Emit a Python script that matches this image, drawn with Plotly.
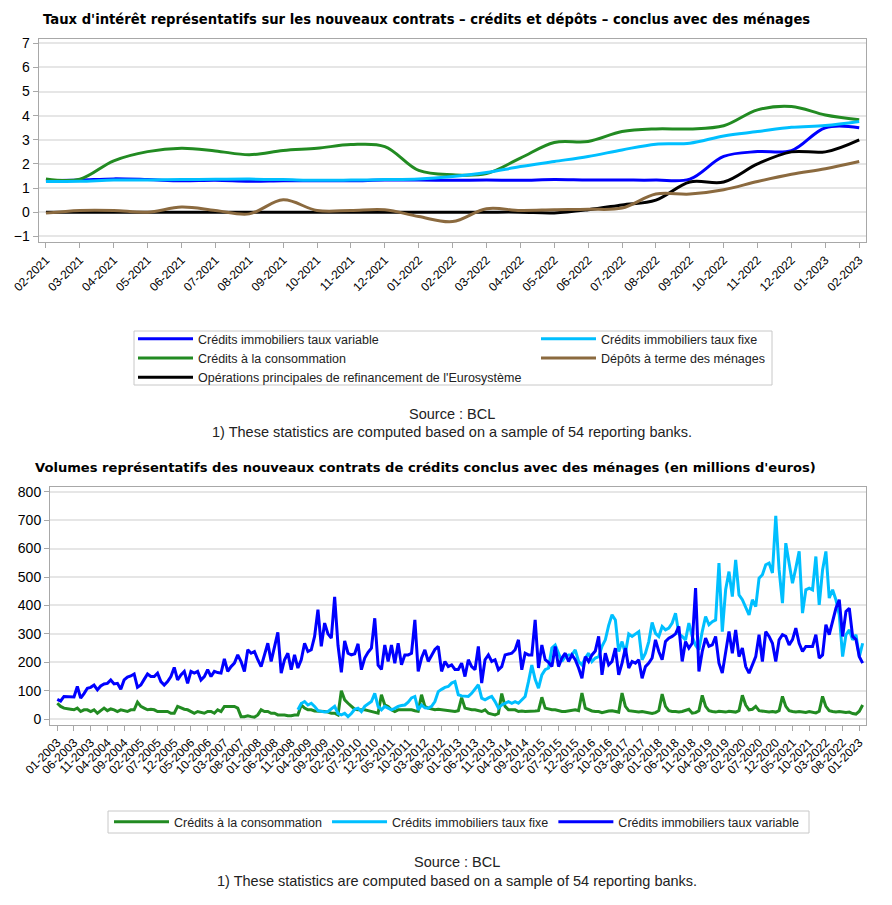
import plotly.graph_objects as go
import pandas as pd

W, H = 892, 905

# ---------------- Data: interest rates (top chart) ----------------
rate_months = ["02-2021", "03-2021", "04-2021", "05-2021", "06-2021", "07-2021",
               "08-2021", "09-2021", "10-2021", "11-2021", "12-2021", "01-2022",
               "02-2022", "03-2022", "04-2022", "05-2022", "06-2022", "07-2022",
               "08-2022", "09-2022", "10-2022", "11-2022", "12-2022", "01-2023",
               "02-2023"]
rate_variable = [1.30, 1.33, 1.38, 1.35, 1.30, 1.32, 1.28, 1.30, 1.30, 1.30, 1.33, 1.33,
                 1.32, 1.33, 1.32, 1.35, 1.33, 1.33, 1.33, 1.37, 2.31, 2.51, 2.55, 3.50, 3.50]
rate_fixed = [1.27, 1.28, 1.33, 1.33, 1.35, 1.36, 1.37, 1.35, 1.32, 1.33, 1.35, 1.38,
              1.48, 1.64, 1.89, 2.10, 2.31, 2.58, 2.82, 2.86, 3.16, 3.34, 3.52, 3.59, 3.76]
rate_consumption = [1.38, 1.37, 2.13, 2.51, 2.65, 2.54, 2.38, 2.56, 2.65, 2.80, 2.72, 1.73,
                    1.55, 1.60, 2.24, 2.89, 2.93, 3.34, 3.45, 3.45, 3.58, 4.24, 4.38, 4.03, 3.83]
rate_deposits = [-0.04, 0.07, 0.07, 0.00, 0.21, 0.07, -0.07, 0.51, 0.07, 0.07, 0.10, -0.18,
                 -0.39, 0.14, 0.07, 0.10, 0.12, 0.17, 0.75, 0.75, 0.93, 1.27, 1.57, 1.80, 2.10]
rate_mro = [0, 0, 0, 0, 0, 0, 0, 0, 0, 0, 0, 0,
            0, 0, 0, -0.03, 0.10, 0.30, 0.50, 1.25, 1.25, 2.00, 2.50, 2.50, 3.00]

# ---------------- Data: volumes (bottom chart) ----------------
vol_months = pd.period_range("2003-01", "2023-02", freq="M").strftime("%m-%Y").tolist()

vol_variable = [
    70, 64, 80, 80, 80, 78, 115, 74, 90, 109, 112, 120,          # 2003
    103, 117, 124, 126, 138, 124, 126, 105, 138, 148, 152, 159,  # 2004
    112, 120, 140, 159, 150, 150, 162, 132, 120, 132, 150, 182,  # 2005
    138, 156, 168, 126, 168, 162, 168, 138, 150, 174, 150, 168,  # 2006
    164, 162, 212, 168, 185, 197, 226, 203, 168, 244, 232, 238,  # 2007
    209, 185, 226, 267, 203, 256, 305, 162, 209, 232, 174, 226,  # 2008
    180, 209, 267, 238, 244, 291, 385, 256, 338, 300, 285, 430,  # 2009
    260, 165, 275, 232, 226, 230, 265, 174, 215, 235, 250, 355,  # 2010
    190, 175, 261, 203, 261, 197, 267, 191, 226, 226, 232, 349,  # 2011
    168, 215, 244, 203, 226, 245, 256, 168, 203, 185, 191, 175,  # 2012
    175, 197, 150, 209, 185, 174, 256, 127, 209, 226, 203, 209,  # 2013
    174, 185, 226, 228, 232, 244, 279, 174, 232, 226, 226, 349,  # 2014
    180, 261, 209, 200, 185, 256, 185, 215, 232, 203, 226, 209,  # 2015
    180, 144, 220, 203, 226, 240, 291, 156, 232, 191, 203, 250,  # 2016
    156, 197, 250, 180, 203, 197, 209, 144, 185, 197, 215, 279,  # 2017
    238, 209, 273, 285, 291, 300, 326, 203, 273, 250, 267, 461,  # 2018
    168, 238, 285, 256, 261, 291, 197, 162, 232, 308, 232, 314,  # 2019
    220, 250, 185, 162, 191, 220, 297, 203, 308, 291, 267, 203,  # 2020
    279, 297, 291, 261, 280, 320, 267, 238, 256, 256, 256, 297,  # 2021
    215, 226, 332, 297, 343, 390, 420, 291, 379, 390, 291, 280,  # 2022
    220, 197,                                                    # 2023
]

vol_fixed = [None] * 72 + [
    33, 55, 62, 50, 56, 45, 30, 27, 25, 27, 35, 45,              # 2009
    20, 15, 21, 9, 20, 35, 39, 27, 45, 55, 62, 91,               # 2010
    45, 33, 45, 39, 33, 38, 45, 48, 50, 60, 75, 80,              # 2011
    33, 50, 40, 39, 45, 62, 97, 105, 112, 115, 127, 132,         # 2012
    86, 82, 80, 80, 91, 105, 121, 74, 68, 75, 80, 62,            # 2013
    39, 50, 56, 62, 56, 62, 56, 70, 80, 132, 190, 140,           # 2014
    109, 156, 174, 180, 250, 261, 230, 203, 220, 226, 226, 244,  # 2015
    203, 191, 215, 232, 203, 215, 220, 256, 279, 330, 367, 349,  # 2016
    238, 273, 232, 300, 291, 300, 308, 209, 232, 273, 340, 302,  # 2017
    291, 326, 314, 320, 338, 373, 300, 291, 279, 338, 291, 260,  # 2018
    244, 308, 361, 332, 343, 349, 549, 308, 455, 519, 431, 560,  # 2019
    437, 420, 390, 367, 420, 396, 496, 508, 543, 549, 514, 715,  # 2020
    525, 408, 619, 549, 478, 531, 590, 373, 455, 461, 455, 572,  # 2021
    402, 525, 590, 426, 455, 420, 367, 220, 297, 314, 279, 297,  # 2022
    220, 267,                                                    # 2023
]

vol_consumption = [
    56, 45, 39, 36, 35, 33, 39, 27, 33, 33, 27, 33,   # 2003
    21, 30, 39, 30, 36, 33, 27, 33, 30, 27, 33, 33,   # 2004
    60, 45, 39, 33, 35, 33, 27, 27, 27, 27, 21, 21,   # 2005
    45, 39, 35, 33, 27, 21, 27, 23, 21, 27, 27, 21,   # 2006
    33, 27, 45, 45, 45, 45, 39, 9, 9, 12, 9, 7,       # 2007
    15, 33, 27, 27, 21, 21, 15, 15, 15, 12, 12, 15,   # 2008
    15, 50, 39, 33, 33, 29, 29, 27, 27, 25, 21, 21,   # 2009
    15, 100, 68, 56, 45, 35, 33, 33, 33, 30, 27, 24,  # 2010
    21, 86, 50, 45, 33, 27, 33, 33, 33, 33, 33, 30,   # 2011
    28, 86, 45, 39, 36, 33, 35, 33, 33, 30, 28, 27,   # 2012
    30, 76, 39, 36, 33, 33, 30, 27, 33, 21, 18, 15,   # 2013
    20, 90, 45, 33, 33, 33, 27, 29, 27, 27, 27, 29,   # 2014
    30, 77, 39, 35, 33, 33, 30, 27, 27, 29, 30, 33,   # 2015
    30, 92, 39, 33, 29, 27, 27, 23, 27, 29, 30, 27,   # 2016
    25, 92, 45, 30, 28, 27, 25, 27, 24, 21, 20, 23,   # 2017
    30, 88, 45, 30, 27, 27, 25, 27, 30, 35, 21, 23,   # 2018
    30, 84, 45, 30, 27, 25, 28, 27, 25, 28, 27, 25,   # 2019
    30, 84, 50, 33, 35, 45, 30, 28, 27, 25, 27, 25,   # 2020
    30, 80, 45, 30, 27, 25, 27, 25, 24, 27, 25, 22,   # 2021
    28, 80, 45, 30, 27, 25, 27, 25, 24, 25, 20, 18,   # 2022
    28, 50,                                           # 2023
]

# ---------------- Styling ----------------
C_VAR = "#0000FF"
C_FIX = "#00BFFF"
C_CONS = "#228B22"
C_DEP = "#8B6A3F"
C_MRO = "#000000"
FONT = "Liberation Sans, Arial, sans-serif"
TFONT = "DejaVu Sans, Liberation Sans, sans-serif"
GRID = "#E6E6E6"
FRAME = "#A8A8A8"


def px(x):
    return x / W


def py(y):
    return 1 - y / H


fig = go.Figure()

# top chart traces
top = [("Crédits immobiliers taux variable", rate_variable, C_VAR, "legend"),
       ("Crédits à la consommation", rate_consumption, C_CONS, "legend"),
       ("Opérations principales de refinancement de l'Eurosystème", rate_mro, C_MRO, "legend"),
       ("Crédits immobiliers taux fixe", rate_fixed, C_FIX, "legend3"),
       ("Dépôts à terme des ménages", rate_deposits, C_DEP, "legend3")]
for name, vals, col, leg in top:
    fig.add_trace(go.Scatter(x=rate_months, y=vals, name=name, mode="lines",
                             line=dict(color=col, width=3, shape="spline", smoothing=1.0),
                             xaxis="x", yaxis="y", legend=leg))

# bottom chart traces
for name, vals, col in [("Crédits à la consommation", vol_consumption, C_CONS),
                        ("Crédits immobiliers taux fixe", vol_fixed, C_FIX),
                        ("Crédits immobiliers taux variable", vol_variable, C_VAR)]:
    fig.add_trace(go.Scatter(x=vol_months, y=vals, name=name, mode="lines",
                             line=dict(color=col, width=3),
                             xaxis="x2", yaxis="y2", legend="legend2"))

axis_common = dict(showline=True, linecolor=FRAME, linewidth=1, mirror=True,
                   ticks="outside", tickcolor=FRAME, ticklen=5, tickwidth=1,
                   automargin=False, zeroline=False)

leg_font = dict(size=12.5, family=FONT, color="#222222")
src_font = dict(size=14.5, family=FONT, color="#222222")

fig.update_layout(
    width=W, height=H,
    margin=dict(l=0, r=0, t=0, b=0),
    paper_bgcolor="white", plot_bgcolor="white",
    font=dict(family=FONT, color="#000000"),
    xaxis=dict(domain=[px(38.5), px(866)], anchor="y", type="category",
               range=[-0.22, 24.2], tickangle=-45, showgrid=False,
               tickfont=dict(size=12, family=FONT), **axis_common),
    yaxis=dict(domain=[py(242.3), py(39)], anchor="x", range=[-1.249, 7.178],
               tickvals=[-1, 0, 1, 2, 3, 4, 5, 6, 7], showgrid=True,
               gridcolor=GRID, gridwidth=2, tickfont=dict(size=14, family=FONT),
               **axis_common),
    xaxis2=dict(domain=[px(50), px(866)], anchor="y2", type="category",
                range=[-2.18, 242.0], tickangle=-45, showgrid=False,
                tickvals=vol_months[::5], tickfont=dict(size=12, family=FONT),
                **axis_common),
    yaxis2=dict(domain=[py(725), py(486.7)], anchor="x2", range=[-20.4, 817.5],
                tickvals=[0, 100, 200, 300, 400, 500, 600, 700, 800], showgrid=True,
                gridcolor=GRID, gridwidth=2, tickfont=dict(size=14, family=FONT),
                **axis_common),
    legend=dict(x=px(133), y=py(324), xanchor="left", yanchor="top",
                orientation="v", bgcolor="rgba(0,0,0,0)", borderwidth=0,
                itemwidth=55, font=leg_font, tracegroupgap=0),
    legend3=dict(x=px(536), y=py(324), xanchor="left", yanchor="top",
                 orientation="v", bgcolor="rgba(0,0,0,0)", borderwidth=0,
                 itemwidth=55, font=leg_font, tracegroupgap=0),
    legend2=dict(x=px(109), y=py(807), xanchor="left", yanchor="top",
                 orientation="h", bgcolor="rgba(0,0,0,0)", borderwidth=0,
                 itemwidth=55, font=leg_font),
    shapes=[
        dict(type="rect", xref="paper", yref="paper", x0=px(134), x1=px(772),
             y0=py(385), y1=py(331), line=dict(color="#C8C8C8", width=1)),
        dict(type="rect", xref="paper", yref="paper", x0=px(108), x1=px(809),
             y0=py(833), y1=py(811), line=dict(color="#C8C8C8", width=1)),
    ],
    annotations=[
        dict(text="<b>Taux d'intérêt représentatifs sur les nouveaux contrats – crédits et dépôts – conclus avec des ménages</b>",
             xref="paper", yref="paper", x=px(41), y=py(20), xanchor="left", yanchor="middle",
             showarrow=False, font=dict(size=13.2, family=TFONT, color="#000000")),
        dict(text="<b>Volumes représentatifs des nouveaux contrats de crédits conclus avec des ménages (en millions d'euros)</b>",
             xref="paper", yref="paper", x=px(33), y=py(468), xanchor="left", yanchor="middle",
             showarrow=False, font=dict(size=13.1, family=TFONT, color="#000000")),
        dict(text="Source : BCL", xref="paper", yref="paper", x=px(452), y=py(414),
             xanchor="center", yanchor="middle", showarrow=False, font=src_font),
        dict(text="1) These statistics are computed based on a sample of 54 reporting banks.",
             xref="paper", yref="paper", x=px(452), y=py(432),
             xanchor="center", yanchor="middle", showarrow=False, font=src_font),
        dict(text="Source : BCL", xref="paper", yref="paper", x=px(457), y=py(862),
             xanchor="center", yanchor="middle", showarrow=False, font=src_font),
        dict(text="1) These statistics are computed based on a sample of 54 reporting banks.",
             xref="paper", yref="paper", x=px(457), y=py(881),
             xanchor="center", yanchor="middle", showarrow=False, font=src_font),
    ],
)

fig.write_html("out.html", config={"displayModeBar": False},
               post_script="document.body.style.margin='0px';")
